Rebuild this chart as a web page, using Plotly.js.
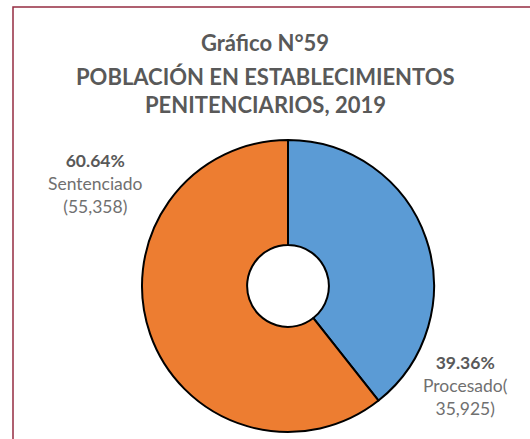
<!DOCTYPE html>
<html><head><meta charset="utf-8">
<script src="https://cdn.plot.ly/plotly-3.0.1.min.js"></script>
<style>html,body{margin:0;padding:0;background:#fff}#chart{width:530px;height:439px}</style>
</head><body><div id="chart"></div>
<script>
const titleLines = ['Gráfico N°59', 'POBLACIÓN EN ESTABLECIMIENTOS', 'PENITENCIARIOS, 2019'];
const categories = ['Procesado', 'Sentenciado'];
const values = [35925, 55358];

const W = 530, H = 439;
const px = x => x / W;
const py = y => 1 - y / H;
const total = values.reduce((a, b) => a + b, 0);
const pct = v => (v / total * 100).toFixed(2) + '%';
const num = v => v.toLocaleString('en-US');

// label lines for each slice (text built from data)
const labelLines = [
  [pct(values[0]), categories[0] + '(', num(values[0]) + ')'],
  [pct(values[1]), categories[1], '(' + num(values[1]) + ')']
];
// layout positions (pixels, block centre)
const labelPos = [{x: 465, y: 385}, {x: 95, y: 183}];
const titleYs = [42, 76, 105];

const FONT = 'Lato, "Open Sans", sans-serif';
const annotations = [];
titleLines.forEach((t, i) => annotations.push({
  text: '<b>' + t + '</b>', x: 0.5, y: py(titleYs[i]), xref: 'paper', yref: 'paper',
  xanchor: 'center', yanchor: 'middle', showarrow: false,
  font: {family: FONT, size: 22, color: '#595959'}
}));
labelLines.forEach((lines, k) => annotations.push({
  text: '<b><span style="color:#595959">' + lines[0] + '</span></b><br>' + lines[1] + '<br>' + lines[2],
  x: px(labelPos[k].x), y: py(labelPos[k].y), xref: 'paper', yref: 'paper',
  xanchor: 'center', yanchor: 'middle', align: 'center', showarrow: false,
  font: {family: FONT, size: 17.5, color: '#707070'}
}));

const cx = 288, cy = 286, r = 146;
const data = [{
  type: 'pie', labels: categories, values: values,
  sort: false, direction: 'clockwise', rotation: 0, hole: 0.28,
  marker: {colors: ['#5B9BD5', '#ED7D31'], line: {color: '#000', width: 2}},
  textinfo: 'none', hoverinfo: 'none', showlegend: false,
  domain: {x: [px(cx - r), px(cx + r)], y: [py(cy + r), py(cy - r)]}
}];
const layout = {
  width: W, height: H, margin: {l: 0, r: 0, t: 0, b: 0},
  paper_bgcolor: '#fff', plot_bgcolor: '#fff',
  annotations: annotations,
  shapes: [{type: 'rect', xref: 'paper', yref: 'paper',
    x0: px(13), x1: 1.02, y0: -0.02, y1: py(7),
    line: {color: '#952c42', width: 1.5}}]
};
Plotly.newPlot('chart', data, layout, {displayModeBar: false, staticPlot: true});
</script></body></html>
